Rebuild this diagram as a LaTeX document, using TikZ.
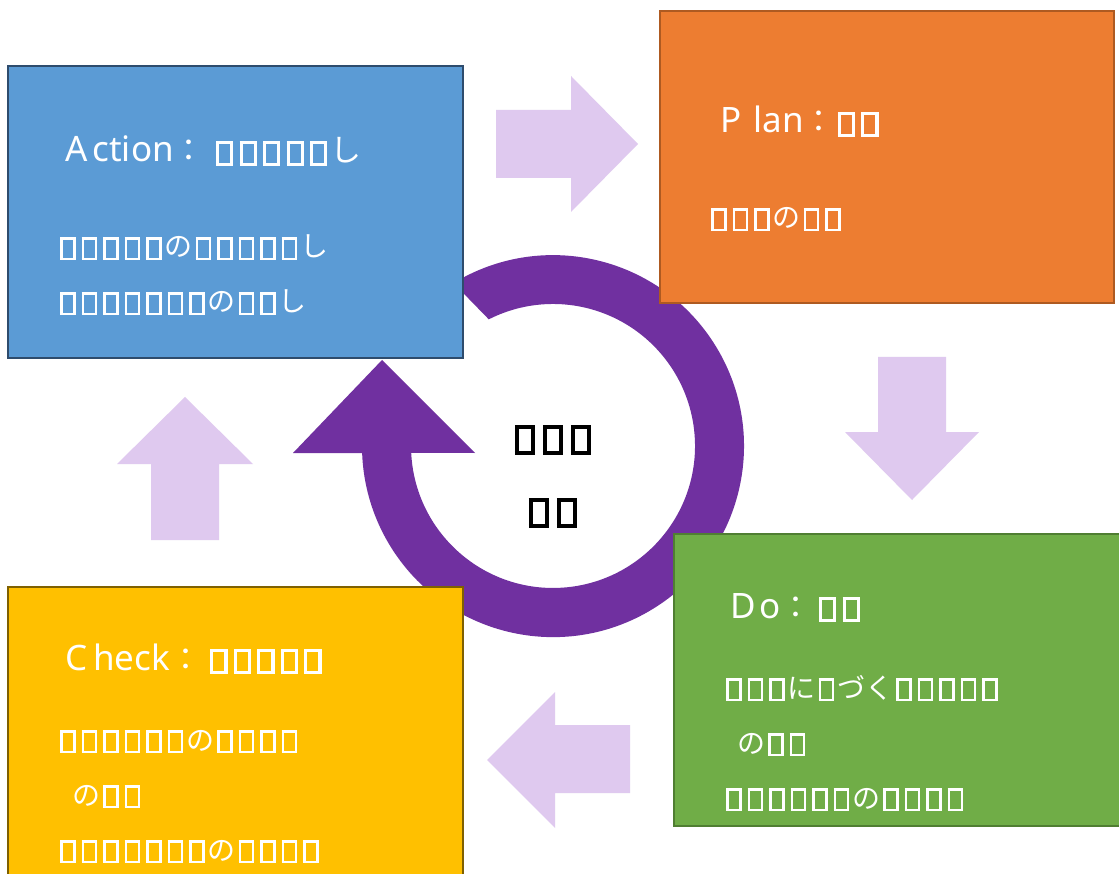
\documentclass[tikz,border=0pt]{standalone}
\usepackage{fontspec}
\setmainfont{Noto Sans}
\newfontfamily\jp{Noto Sans CJK JP}

\definecolor{ringpurple}{HTML}{7030A0}
\definecolor{lavender}{HTML}{DFC9EF}
\definecolor{actfill}{HTML}{5B9BD5}\definecolor{actline}{HTML}{2E4C6D}
\definecolor{planfill}{HTML}{ED7D31}\definecolor{planline}{HTML}{AE5A21}
\definecolor{dofill}{HTML}{70AD47}\definecolor{doline}{HTML}{507E32}
\definecolor{chkfill}{HTML}{FFC000}\definecolor{chkline}{HTML}{7F6000}

% empty glyph box (missing-character square), sized from the current font
\newcommand\ndw{0.115em}
\newcommand\nd{\kern0.135em\raisebox{-0.04em}{\setlength{\fboxsep}{0pt}\setlength{\fboxrule}{\ndw}\fbox{\rule{0pt}{\dimexpr1.08em-2\fboxrule\relax}\rule{\dimexpr0.73em-2\fboxrule\relax}{0pt}}}\kern0.135em}
% kana in the Japanese face: body lines and headings
\newcommand\h[1]{{\fontsize{28}{30}\selectfont\jp #1}}
\newcommand\hk[1]{{\fontsize{31}{34}\selectfont\jp #1}}
% glyph boxes of a heading
\newcommand\tj[1]{{\fontsize{23.5}{30}\selectfont\renewcommand\ndw{0.13em}#1}}

\tikzset{
  card/.style={draw, line width=2.5pt, minimum width=455pt, minimum height=292pt, inner sep=0pt},
  ttl/.style={anchor=base west, inner sep=0pt, text=white, font=\fontsize{35}{40}\selectfont},
  bodytxt/.style={anchor=base west, inner sep=0pt, text=white, font=\fontsize{21.5}{24}\selectfont},
  ctrtxt/.style={anchor=base, inner sep=0pt, text=black, font=\fontsize{28}{30}\selectfont},
  flow/.style={fill=lavender},
}

\begin{document}
\begin{tikzpicture}[x=1pt,y=-1pt]
\path[use as bounding box, clip] (0,0) rectangle (1119,874);
\fill[white] (0,0) rectangle (1119,874);

% circular arrow behind the cards
\fill[ringpurple] (453.5,283.1) arc[start angle=238.6, end angle=537.9, radius=191]
  -- (293,453) -- (382,360) -- (475,453) -- (411.2,452.9)
  arc[start angle=537.2, end angle=243.1, radius=142] -- cycle;

% the four cards
\node[card, fill=actfill, draw=actline] (act) at (235.5,212) {};
\node[card, fill=planfill, draw=planline, minimum width=454pt] (plan) at (887,157) {};
\node[card, fill=dofill, draw=doline] (do) at (901.5,680) {};
\node[card, fill=chkfill, draw=chkline] (chk) at (235.5,733) {};

% block arrows between the cards
\fill[flow] (496,110) -- (571,110) -- (571,76) -- (638,144) -- (571,212) -- (571,178) -- (496,178) -- cycle;
\fill[flow] (878,357) -- (946,357) -- (946,432) -- (979,432) -- (912,500) -- (845,432) -- (878,432) -- cycle;
\fill[flow] (630,725) -- (555,725) -- (555,692) -- (487,760) -- (555,828) -- (555,793) -- (630,793) -- cycle;
\fill[flow] (151,540) -- (151,464) -- (117,464) -- (185,397) -- (253,464) -- (219,464) -- (219,540) -- cycle;

% Action
\node[ttl] (actT) at (65,162) {A\kern5pt ction\hk{：}\kern8pt\tj{\nd\nd\nd\nd\nd}\hk{し}};
\node[bodytxt] (actL1) at (57,257) {\nd\nd\nd\nd\nd\h{の}\nd\nd\nd\nd\nd\h{し}};
\node[bodytxt] (actL2) at (57,312) {\nd\nd\nd\nd\nd\nd\nd\h{の}\nd\nd\h{し}};

% Plan
\node[ttl] (planT) at (720,133) {P\kern12pt lan\hk{：}\tj{\nd\nd}};
\node[bodytxt] (planL1) at (708,228) {\nd\nd\nd\h{の}\nd\nd};

% Do
\node[ttl] (doT) at (730,618) {D\kern4pt o\hk{：}\kern4pt\tj{\nd\nd}};
\node[bodytxt] (doL1) at (723,698) {\nd\nd\nd\h{に}\nd\h{づく}\nd\nd\nd\nd\nd};
\node[bodytxt] (doL2) at (737,753) {\h{の}\nd\nd};
\node[bodytxt] (doL3) at (723,808) {\nd\nd\nd\nd\nd\nd\h{の}\nd\nd\nd\nd};

% Check
\node[ttl] (chkT) at (65,670) {C\kern6pt heck\hk{：}\kern6pt\tj{\nd\nd\nd\nd\nd}};
\node[bodytxt] (chkL1) at (57,750) {\nd\nd\nd\nd\nd\nd\h{の}\nd\nd\nd\nd};
\node[bodytxt] (chkL2) at (72,805) {\h{の}\nd\nd};
\node[bodytxt] (chkL3) at (57,860) {\nd\nd\nd\nd\nd\nd\nd\h{の}\nd\nd\nd\nd};

% centre label
\node[ctrtxt] (ctr1) at (553,450) {\renewcommand\ndw{0.15em}\nd\nd\nd};
\node[ctrtxt] (ctr2) at (553,523) {\renewcommand\ndw{0.15em}\nd\nd};
\end{tikzpicture}
\end{document}
